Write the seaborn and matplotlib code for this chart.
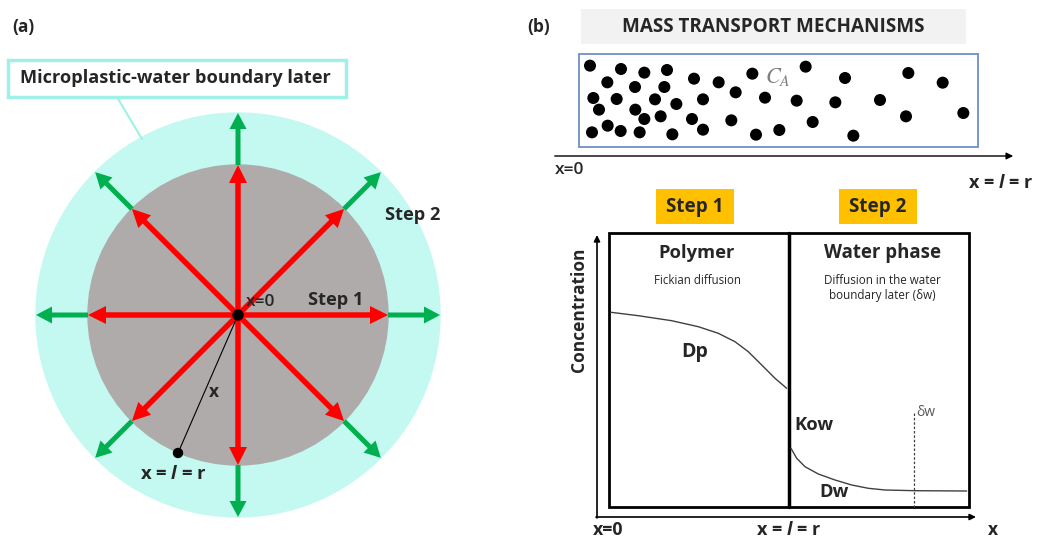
import matplotlib
matplotlib.use('Agg')
import matplotlib.pyplot as plt
import seaborn as sns
import numpy as np
import pandas as pd
from matplotlib.patches import Circle, Rectangle

sns.set_style("white")
plt.rcParams['font.family'] = ['Open Sans', 'DejaVu Sans']
plt.rcParams['mathtext.fontset'] = 'custom'
plt.rcParams['mathtext.rm'] = 'Open Sans:bold'
plt.rcParams['mathtext.it'] = 'Open Sans:bold:italic'

# panel (a): diffusion directions (degrees) and radii in pixels
angles = [0, 45, 90, 135, 180, 225, 270, 315]
r_polymer = 150
r_water = 202
center = (238, 315)
edge_point = (178, 453)

# panel (b): particles in the mass transport box
dot_x = [150, 243, 313, 381, 462, 536, 637, 797, 915, 1105, 1208,
         202, 285, 373, 587, 675, 770, 886, 1020, 1270,
         160, 230, 345, 409, 489,
         177, 286, 313, 362, 456, 574, 818, 1098,
         156, 203, 242, 299, 397, 489, 648, 718, 940]
dot_y = [197, 207, 218, 210, 236, 247, 221, 200, 234, 219, 248,
         247, 261, 261, 277, 293, 302, 307, 300, 339,
         294, 297, 298, 312, 298,
         329, 329, 357, 349, 357, 361, 366, 349,
         397, 377, 393, 397, 403, 389, 404, 390, 407]
dots = pd.DataFrame({"x": [540 + v / 3 for v in dot_x],
                     "y": [v / 3 for v in dot_y]})

# concentration profiles
polymer_x = [611.0, 638.3, 671.7, 698.3, 718.3, 735.0, 748.3, 761.7, 775.0, 786.7]
polymer_y = [312.3, 315.7, 320.7, 326.7, 333.3, 341.7, 351.7, 365.0, 378.3, 388.3]
water_x = [791.0, 796.7, 805.0, 818.3, 835.0, 851.7, 868.3, 885.0, 915.0, 966.7]
water_y = [448.3, 458.3, 466.7, 474.0, 480.0, 485.0, 488.3, 490.0, 490.7, 491.0]

fig = plt.figure(figsize=(10.38, 5.37), dpi=100)
ax = fig.add_axes([0, 0, 1, 1])
ax.set_xlim(0, 1038)
ax.set_ylim(537, 0)
ax.set_aspect('equal')
ax.axis('off')

# ---------- (a) ----------
ax.text(12, 27, "(a)", fontsize=12.5, fontweight='bold', va='center')
ax.add_patch(Rectangle((8, 60), 338, 37, fill=False, ec='#9ff1e8', lw=2.5))
ax.text(20, 78, "Microplastic-water boundary later", fontsize=13.1,
        fontweight='bold', va='center')
ax.plot([117, 142], [97, 139], color='#9ff1e8', lw=1.5)

ax.add_patch(Circle(center, r_water, color='#c3f9f1', zorder=1))
ax.add_patch(Circle(center, r_polymer, color='#afabab', zorder=2))

for a in angles:
    c, s = np.cos(np.radians(a)), -np.sin(np.radians(a))
    ax.arrow(center[0], center[1], r_polymer * c, r_polymer * s, width=5.5,
             head_width=18, head_length=18, length_includes_head=True,
             color='#ff0000', lw=0, zorder=4)
    ax.arrow(center[0] + r_polymer * c, center[1] + r_polymer * s,
             (r_water - r_polymer) * c, (r_water - r_polymer) * s, width=5,
             head_width=17, head_length=16, length_includes_head=True,
             color='#00b050', lw=0, zorder=3)

ax.plot([center[0], edge_point[0]], [center[1], edge_point[1]], color='black',
        lw=0.8, zorder=5)
ax.add_patch(Circle(center, 5, color='black', zorder=6))
ax.add_patch(Circle(edge_point, 4.5, color='black', zorder=6))
ax.text(245.5, 302, "x=0", fontsize=12.5, fontweight='semibold', va='center', zorder=7)
ax.text(308, 300, "Step 1", fontsize=13.1, fontweight='bold', va='center', zorder=7)
ax.text(385, 215, "Step 2", fontsize=13.1, fontweight='bold', va='center', zorder=7)
ax.text(209, 392, "x", fontsize=12.5, fontweight='bold', va='center', zorder=7)
ax.text(140, 474, r"x = $\mathit{l}$ = r", fontsize=13.3, fontweight='bold',
        va='center', zorder=7)

# ---------- (b) ----------
ax.text(527, 27, "(b)", fontsize=12.5, fontweight='bold', va='center')
ax.add_patch(Rectangle((581, 9), 385, 35, color='#f2f2f2', lw=0))
ax.text(773, 27, "MASS TRANSPORT MECHANISMS", fontsize=13.6, fontweight='bold',
        ha='center', va='center')
ax.add_patch(Rectangle((579, 54), 399, 93, fill=False, ec='#6f8fc7', lw=1.3))
sns.scatterplot(data=dots, x="x", y="y", ax=ax, s=75, color='black',
                edgecolor='none', legend=False, zorder=3)
ax.text(778, 77, r"$C_A$", fontsize=16, color='#7f7f7f', ha='center',
        va='center', math_fontfamily='stix')
ax.annotate("", xy=(1016, 156), xytext=(552, 156),
            arrowprops=dict(arrowstyle='-|>', color='black', lw=1,
                            mutation_scale=10))
ax.text(555, 170, "x=0", fontsize=12.5, fontweight='semibold', va='center')
ax.text(1033, 183, r"x = $\mathit{l}$ = r", fontsize=13, fontweight='bold',
        ha='right', va='center')

ax.add_patch(Rectangle((656, 189), 78, 35, color='#ffc000', lw=0))
ax.text(695, 207, "Step 1", fontsize=13.6, fontweight='bold', ha='center', va='center')
ax.add_patch(Rectangle((839, 189), 78, 35, color='#ffc000', lw=0))
ax.text(878, 207, "Step 2", fontsize=13.6, fontweight='bold', ha='center', va='center')

ax.add_patch(Rectangle((609, 233), 360, 274, fill=False, ec='black', lw=2))
ax.plot([789, 789], [233, 507], color='black', lw=2.5)
ax.annotate("", xy=(597, 235), xytext=(597, 518),
            arrowprops=dict(arrowstyle='-|>', color='black', lw=1.2,
                            mutation_scale=9, shrinkA=0, shrinkB=0))
ax.annotate("", xy=(976, 517), xytext=(596, 517),
            arrowprops=dict(arrowstyle='-|>', color='black', lw=1.2,
                            mutation_scale=9, shrinkA=0, shrinkB=0))
ax.text(579, 310, "Concentration", fontsize=12.5, fontweight='bold', rotation=90,
        ha='center', va='center')

ax.text(697, 253, "Polymer", fontsize=13.2, fontweight='bold', ha='center', va='center')
ax.text(697, 280, "Fickian diffusion", fontsize=8.3, ha='center', va='center')
ax.text(883, 253, "Water phase", fontsize=13.4, fontweight='bold', ha='center', va='center')
ax.text(882, 280, "Diffusion in the water", fontsize=8.4, ha='center', va='center')
ax.text(882, 296, "boundary later (δw)", fontsize=8.4, ha='center', va='center')

sns.lineplot(x=polymer_x, y=polymer_y, ax=ax, color='#404040', lw=1,
             sort=False, estimator=None)
sns.lineplot(x=water_x, y=water_y, ax=ax, color='#404040', lw=1,
             sort=False, estimator=None)
ax.plot([914, 914], [413, 507], color='#404040', lw=0.9, ls=(0, (2, 1.5)))
ax.text(916, 412, "δw", fontsize=10, color='#595959', va='center')

ax.text(695, 352, "Dp", fontsize=14, fontweight='bold', ha='center', va='center')
ax.text(794, 425, "Kow", fontsize=13.2, fontweight='bold', va='center')
ax.text(819, 492, "Dw", fontsize=13.2, fontweight='bold', va='center')

ax.text(593, 530, "x=0", fontsize=12.8, fontweight='bold', va='center')
ax.text(788, 530, r"x = $\mathit{l}$ = r", fontsize=13, fontweight='bold',
        ha='center', va='center')
ax.text(993, 530, "x", fontsize=12.5, fontweight='bold', ha='center', va='center')

ax.set_xlim(0, 1038)
ax.set_ylim(537, 0)
fig.savefig("out.png", dpi=100)
